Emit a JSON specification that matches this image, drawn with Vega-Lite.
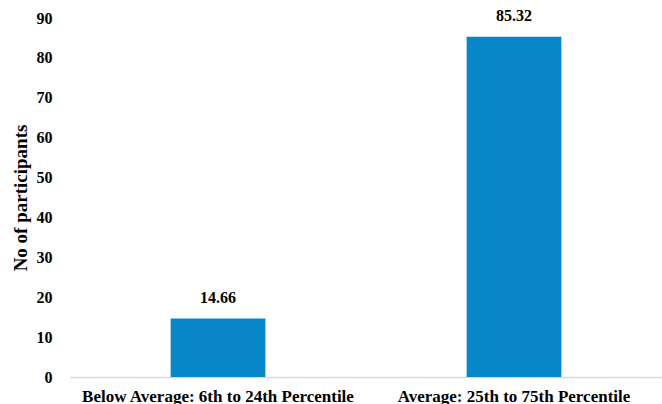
{
  "$schema": "https://vega.github.io/schema/vega-lite/v6.json",
  "autosize": "none",
  "width": 592,
  "height": 359,
  "padding": {"left": 70, "top": 18, "right": 0, "bottom": 27},
  "background": "white",
  "config": {"view": {"stroke": null}, "font": "Liberation Serif"},
  "data": {"values": [
    {"category": "Below Average: 6th to 24th Percentile", "value": 14.66},
    {"category": "Average: 25th to 75th Percentile", "value": 85.32}
  ]},
  "encoding": {
    "x": {"field": "category", "type": "nominal", "sort": null,
      "scale": {"paddingInner": 0.68, "paddingOuter": 0.34},
      "axis": {"title": null, "labelAngle": 0, "labelFont": "Liberation Serif", "labelFontWeight": "bold", "labelFontSize": 17, "labelColor": "#000000", "labelPadding": 11, "ticks": false, "domainColor": "#d9d9d9", "domainWidth": 1.5, "labelLimit": 400}},
    "y": {"field": "value", "type": "quantitative",
      "scale": {"domain": [0, 90], "nice": false},
      "axis": {"title": "No of participants", "titleFont": "Liberation Serif", "titleFontWeight": "bold", "titleFontSize": 19, "titleColor": "#000000", "titlePadding": 6, "values": [0,10,20,30,40,50,60,70,80,90], "labelFont": "Liberation Serif", "labelFontWeight": "bold", "labelFontSize": 16, "labelColor": "#000000", "labelPadding": 18, "ticks": false, "domain": false, "grid": false}}
  },
  "layer": [
    {"mark": {"type": "bar", "color": "#0787C9"}},
    {"mark": {"type": "text", "dy": -16, "baseline": "alphabetic", "font": "Liberation Serif", "fontWeight": "bold", "fontSize": 16, "color": "#000000"},
     "encoding": {"text": {"field": "value", "type": "quantitative", "format": ".2f"}}}
  ]
}
